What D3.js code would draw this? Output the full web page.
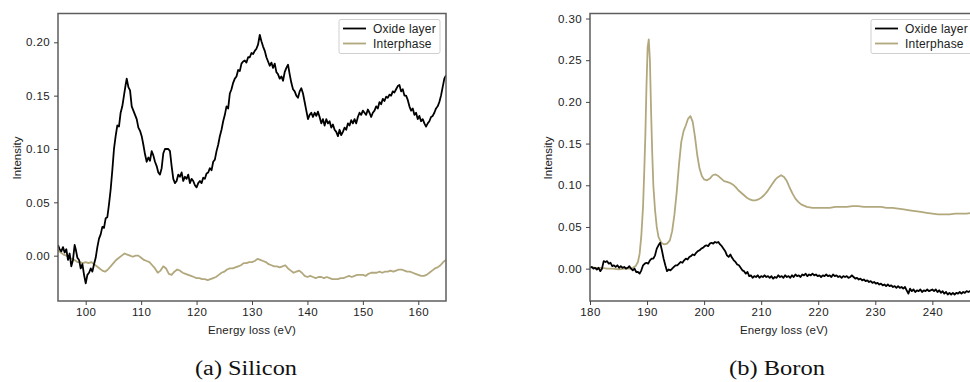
<!DOCTYPE html>
<html><head><meta charset="utf-8">
<script src="https://cdn.jsdelivr.net/npm/d3@7"></script>
<style>body{margin:0;background:#fff}svg{display:block}</style>
</head><body>
<svg id="c" width="970" height="382"></svg>
<script>
// ---------- DATA ----------
const seriesNames = ["Oxide layer", "Interphase"];
const siXTicks = [100,110,120,130,140,150,160];
const siYTicks = [0.00,0.05,0.10,0.15,0.20];
const bXTicks = [180,190,200,210,220,230,240];
const bYTicks = [0.00,0.05,0.10,0.15,0.20,0.25,0.30];
const captions = ["(a) Silicon","(b) Boron"];

const siOxideE = [95.0,95.3,95.6,95.9,96.2,96.5,96.8,97.1,97.4,97.7,98.0,98.2,98.5,98.8,99.1,99.4,99.7,100.0,100.3,100.6,100.9,101.2,101.5,101.8,102.1,102.4,102.7,103.0,103.3,103.6,103.9,104.2,104.5,104.8,105.1,105.4,105.7,106.0,106.3,106.6,106.9,107.2,107.4,107.7,108.0,108.3,108.6,108.9,109.2,109.5,109.8,110.1,110.4,110.7,111.0,111.3,111.6,111.9,112.2,112.5,112.8,113.1,113.4,113.7,114.0,114.3,114.6,114.9,115.2,115.5,115.8,116.1,116.4,116.7,117.0,117.3,117.6,117.9,118.2,118.5,118.8,119.1,119.4,119.7,120.0,120.3,120.6,120.9,121.2,121.5,121.8,122.1,122.4,122.7,123.0,123.3,123.6,123.9,124.2,124.5,124.8,125.1,125.4,125.7,126.0,126.3,126.6,126.9,127.2,127.5,127.8,128.1,128.4,128.7,129.0,129.3,129.6,129.9,130.2,130.5,130.8,131.1,131.4,131.7,132.0,132.3,132.6,132.9,133.2,133.5,133.8,134.1,134.4,134.7,135.0,135.3,135.6,135.9,136.2,136.5,136.8,137.1,137.4,137.7,138.0,138.3,138.6,138.9,139.2,139.5,139.8,140.1,140.4,140.7,141.0,141.3,141.6,141.9,142.2,142.5,142.8,143.1,143.4,143.7,144.0,144.3,144.6,144.9,145.2,145.5,145.8,146.1,146.4,146.7,147.0,147.3,147.6,147.9,148.2,148.5,148.8,149.1,149.4,149.7,150.0,150.3,150.6,150.9,151.2,151.5,151.8,152.1,152.4,152.7,153.0,153.3,153.6,153.9,154.2,154.5,154.8,155.1,155.4,155.7,156.0,156.3,156.6,156.9,157.2,157.5,157.8,158.1,158.4,158.7,159.0,159.3,159.6,159.9,160.2,160.5,160.8,161.1,161.4,161.7,162.0,162.3,162.6,162.9,163.2,163.5,163.8,164.1,164.4,164.7,165.0];
const siOxideI = [0.010,0.006,0.004,0.008,0.003,0.006,-0.004,0.002,-0.010,-0.004,0.010,0.006,-0.002,-0.004,-0.012,-0.008,-0.018,-0.026,-0.018,-0.016,-0.012,-0.015,-0.008,-0.002,0.008,0.016,0.020,0.027,0.026,0.035,0.036,0.048,0.062,0.080,0.100,0.112,0.122,0.121,0.134,0.140,0.150,0.160,0.166,0.158,0.155,0.140,0.136,0.132,0.128,0.120,0.117,0.112,0.104,0.095,0.088,0.092,0.089,0.098,0.094,0.088,0.084,0.078,0.076,0.082,0.096,0.100,0.100,0.100,0.098,0.084,0.072,0.068,0.070,0.076,0.074,0.078,0.070,0.074,0.072,0.076,0.068,0.072,0.070,0.066,0.064,0.068,0.070,0.068,0.073,0.072,0.077,0.078,0.082,0.080,0.088,0.090,0.098,0.104,0.112,0.118,0.126,0.132,0.140,0.138,0.152,0.156,0.162,0.166,0.168,0.174,0.173,0.180,0.182,0.183,0.181,0.186,0.186,0.190,0.189,0.192,0.194,0.198,0.207,0.201,0.196,0.192,0.186,0.182,0.178,0.181,0.176,0.180,0.172,0.170,0.166,0.168,0.164,0.172,0.176,0.179,0.170,0.162,0.156,0.154,0.150,0.148,0.154,0.157,0.152,0.144,0.136,0.128,0.132,0.134,0.130,0.134,0.131,0.135,0.130,0.124,0.128,0.122,0.128,0.124,0.126,0.120,0.123,0.118,0.116,0.112,0.118,0.113,0.116,0.120,0.118,0.124,0.122,0.127,0.124,0.128,0.124,0.130,0.134,0.132,0.136,0.134,0.132,0.137,0.134,0.130,0.134,0.136,0.140,0.138,0.144,0.142,0.147,0.145,0.149,0.148,0.151,0.150,0.154,0.153,0.156,0.159,0.160,0.154,0.156,0.150,0.150,0.146,0.140,0.136,0.138,0.132,0.134,0.128,0.131,0.126,0.128,0.124,0.121,0.124,0.126,0.130,0.131,0.134,0.138,0.140,0.144,0.150,0.158,0.166,0.169];

const siInterE = [95.0,95.5,96.0,96.5,97.0,97.5,98.0,98.5,99.0,99.5,100.0,100.5,101.0,101.5,102.0,102.5,103.0,103.5,104.0,104.5,105.0,105.5,106.0,106.5,107.0,107.5,108.0,108.5,109.0,109.5,110.0,110.5,111.0,111.5,112.0,112.5,113.0,113.5,114.0,114.5,115.0,115.5,116.0,116.5,117.0,117.5,118.0,118.5,119.0,119.5,120.0,120.5,121.0,121.5,122.0,122.5,123.0,123.5,124.0,124.5,125.0,125.5,126.0,126.5,127.0,127.5,128.0,128.5,129.0,129.5,130.0,130.5,131.0,131.5,132.0,132.5,133.0,133.5,134.0,134.5,135.0,135.5,136.0,136.5,137.0,137.5,138.0,138.5,139.0,139.5,140.0,140.5,141.0,141.5,142.0,142.5,143.0,143.5,144.0,144.5,145.0,145.5,146.0,146.5,147.0,147.5,148.0,148.5,149.0,149.5,150.0,150.5,151.0,151.5,152.0,152.5,153.0,153.5,154.0,154.5,155.0,155.5,156.0,156.5,157.0,157.5,158.0,158.5,159.0,159.5,160.0,160.5,161.0,161.5,162.0,162.5,163.0,163.5,164.0,164.5,165.0];
const siInterI = [0.005,0.003,0.001,0.000,-0.002,-0.003,-0.004,-0.006,-0.006,-0.007,-0.006,-0.007,-0.006,-0.008,-0.010,-0.012,-0.014,-0.015,-0.013,-0.010,-0.007,-0.004,-0.002,0.000,0.002,0.001,0.000,-0.001,0.000,0.000,-0.002,-0.004,-0.005,-0.006,-0.009,-0.012,-0.016,-0.014,-0.010,-0.012,-0.017,-0.018,-0.015,-0.013,-0.014,-0.016,-0.017,-0.018,-0.019,-0.020,-0.021,-0.021,-0.022,-0.022,-0.023,-0.022,-0.021,-0.020,-0.018,-0.016,-0.015,-0.013,-0.012,-0.012,-0.011,-0.010,-0.009,-0.007,-0.007,-0.006,-0.006,-0.005,-0.003,-0.004,-0.005,-0.006,-0.008,-0.009,-0.010,-0.010,-0.011,-0.010,-0.009,-0.012,-0.014,-0.016,-0.015,-0.014,-0.016,-0.019,-0.020,-0.019,-0.020,-0.021,-0.020,-0.020,-0.021,-0.020,-0.021,-0.022,-0.022,-0.022,-0.021,-0.021,-0.020,-0.019,-0.020,-0.019,-0.018,-0.018,-0.018,-0.019,-0.017,-0.016,-0.016,-0.016,-0.015,-0.016,-0.015,-0.015,-0.014,-0.015,-0.014,-0.013,-0.013,-0.014,-0.015,-0.015,-0.016,-0.017,-0.018,-0.019,-0.019,-0.018,-0.016,-0.014,-0.012,-0.011,-0.009,-0.006,-0.004];

const bOxideE = [180.0,180.3,180.6,180.9,181.2,181.5,181.8,182.1,182.4,182.7,183.0,183.3,183.6,183.9,184.2,184.5,184.8,185.1,185.4,185.7,186.0,186.3,186.6,186.9,187.2,187.5,187.8,188.1,188.4,188.7,189.0,189.3,189.6,189.9,190.2,190.5,190.8,191.1,191.4,191.7,192.0,192.3,192.6,192.9,193.2,193.5,193.8,194.1,194.4,194.7,195.0,195.3,195.6,195.9,196.2,196.5,196.8,197.1,197.4,197.7,198.0,198.3,198.6,198.9,199.2,199.5,199.8,200.1,200.4,200.7,201.0,201.3,201.6,201.9,202.2,202.5,202.8,203.1,203.4,203.7,204.0,204.3,204.6,204.9,205.2,205.5,205.8,206.1,206.4,206.7,207.0,207.3,207.6,207.9,208.2,208.5,208.8,209.1,209.4,209.7,210.0,210.3,210.6,210.9,211.2,211.5,211.8,212.1,212.4,212.7,213.0,213.3,213.6,213.9,214.2,214.5,214.8,215.1,215.4,215.7,216.0,216.3,216.6,216.9,217.2,217.5,217.8,218.1,218.4,218.7,219.0,219.3,219.6,219.9,220.2,220.5,220.8,221.1,221.4,221.7,222.0,222.3,222.6,222.9,223.2,223.5,223.8,224.1,224.4,224.7,225.0,225.3,225.6,225.9,226.2,226.5,226.8,227.1,227.4,227.7,228.0,228.3,228.6,228.9,229.2,229.5,229.8,230.1,230.4,230.7,231.0,231.3,231.6,231.9,232.2,232.5,232.8,233.1,233.4,233.7,234.0,234.3,234.6,234.9,235.2,235.5,235.8,236.1,236.4,236.7,237.0,237.3,237.6,237.9,238.2,238.5,238.8,239.1,239.4,239.7,240.0,240.3,240.6,240.9,241.2,241.5,241.8,242.1,242.4,242.7,243.0,243.3,243.6,243.9,244.2,244.5,244.8,245.1,245.4,245.7,246.0,246.3,246.6,246.9,247.2,247.5];
const bOxideI = [0.001,0.002,0.000,0.001,-0.001,0.001,-0.003,0.000,0.009,0.008,0.009,0.006,0.007,0.003,0.004,0.002,0.004,0.001,0.003,0.001,0.002,0.000,0.001,0.003,0.000,-0.002,0.000,-0.004,-0.004,-0.006,-0.002,0.004,0.006,0.007,0.006,0.010,0.012,0.012,0.016,0.024,0.028,0.031,0.022,0.012,0.004,-0.003,-0.001,-0.002,0.000,0.002,0.004,0.004,0.006,0.008,0.007,0.010,0.012,0.011,0.014,0.015,0.017,0.016,0.019,0.021,0.022,0.024,0.025,0.027,0.028,0.027,0.030,0.031,0.030,0.032,0.031,0.032,0.029,0.027,0.024,0.021,0.016,0.014,0.017,0.013,0.010,0.008,0.005,0.004,0.001,-0.002,-0.003,-0.006,-0.004,-0.009,-0.008,-0.011,-0.009,-0.010,-0.008,-0.011,-0.009,-0.010,-0.008,-0.010,-0.009,-0.011,-0.009,-0.012,-0.010,-0.011,-0.008,-0.010,-0.009,-0.011,-0.008,-0.010,-0.009,-0.011,-0.008,-0.010,-0.007,-0.009,-0.008,-0.010,-0.007,-0.008,-0.006,-0.009,-0.007,-0.008,-0.006,-0.008,-0.007,-0.009,-0.008,-0.010,-0.008,-0.009,-0.007,-0.009,-0.008,-0.010,-0.007,-0.009,-0.008,-0.010,-0.009,-0.011,-0.009,-0.010,-0.009,-0.011,-0.010,-0.008,-0.010,-0.012,-0.011,-0.013,-0.012,-0.014,-0.013,-0.015,-0.014,-0.016,-0.015,-0.017,-0.016,-0.018,-0.017,-0.019,-0.018,-0.020,-0.019,-0.021,-0.019,-0.021,-0.020,-0.022,-0.021,-0.023,-0.021,-0.023,-0.022,-0.024,-0.022,-0.026,-0.030,-0.024,-0.027,-0.025,-0.028,-0.026,-0.027,-0.025,-0.028,-0.026,-0.027,-0.025,-0.027,-0.026,-0.025,-0.027,-0.025,-0.028,-0.026,-0.029,-0.027,-0.030,-0.028,-0.031,-0.029,-0.031,-0.029,-0.031,-0.029,-0.030,-0.028,-0.030,-0.028,-0.029,-0.027,-0.028,-0.027,-0.028,-0.027,-0.028];

const bInterE = [180.0,181.0,182.0,183.0,184.0,185.0,186.0,187.0,187.5,188.0,188.4,188.7,189.0,189.3,189.5,189.7,189.9,190.1,190.3,190.5,190.7,190.9,191.1,191.4,191.7,192.0,192.5,193.0,193.5,194.0,194.4,194.8,195.2,195.6,196.0,196.4,196.8,197.2,197.6,198.0,198.4,198.8,199.2,199.6,200.0,200.5,201.0,201.5,202.0,202.5,203.0,203.5,204.0,204.5,205.0,205.5,206.0,206.5,207.0,207.5,208.0,208.5,209.0,209.5,210.0,210.5,211.0,211.5,212.0,212.5,213.0,213.5,214.0,214.5,215.0,215.5,216.0,216.5,217.0,218.0,219.0,220.0,221.0,222.0,223.0,224.0,225.0,226.0,227.0,228.0,229.0,230.0,231.0,232.0,233.0,234.0,235.0,236.0,237.0,238.0,239.0,240.0,241.0,242.0,243.0,244.0,245.0,246.0,247.0,248.0];
const bInterI = [0.002,0.001,0.001,0.000,0.000,-0.001,0.000,0.000,0.001,0.003,0.008,0.018,0.040,0.075,0.115,0.160,0.220,0.265,0.275,0.250,0.190,0.140,0.100,0.070,0.050,0.038,0.031,0.029,0.030,0.034,0.045,0.065,0.092,0.125,0.152,0.165,0.172,0.180,0.183,0.176,0.158,0.136,0.120,0.111,0.107,0.106,0.108,0.112,0.113,0.111,0.108,0.105,0.104,0.103,0.101,0.098,0.094,0.091,0.088,0.085,0.083,0.082,0.082,0.083,0.085,0.088,0.092,0.097,0.102,0.107,0.110,0.112,0.110,0.105,0.097,0.090,0.084,0.080,0.077,0.074,0.073,0.073,0.073,0.073,0.074,0.074,0.074,0.075,0.075,0.074,0.074,0.074,0.074,0.073,0.073,0.072,0.071,0.070,0.069,0.068,0.067,0.066,0.065,0.065,0.065,0.066,0.066,0.066,0.067,0.067];

// ---------- DRAW ----------
const colOxide = "#000000", colInter = "#b2a87e";
const FONT = "Liberation Sans, Arial, sans-serif";
const svg = d3.select("#c");

function panel(o) {
  const x = d3.scaleLinear().domain(o.xDomain).range([o.left, o.right]);
  const y = d3.scaleLinear().domain(o.yDomain).range([o.bottom, o.top]);
  const g = svg.append("g");
  const cid = "clip" + o.id;
  svg.append("clipPath").attr("id", cid).append("rect")
    .attr("x", o.left).attr("y", o.top).attr("width", o.right - o.left).attr("height", o.bottom - o.top);

  const line = d3.line().x(d => x(d[0])).y(d => y(d[1]));
  const mk = (E, I) => E.map((e, i) => [e, I[i]]);
  const pg = g.append("g").attr("clip-path", `url(#${cid})`);
  pg.append("path").datum(mk(o.interE, o.interI)).attr("d", line)
    .attr("fill", "none").attr("stroke", colInter).attr("stroke-width", 1.8).attr("stroke-linejoin", "round");
  pg.append("path").datum(mk(o.oxE, o.oxI)).attr("d", line)
    .attr("fill", "none").attr("stroke", colOxide).attr("stroke-width", 1.8).attr("stroke-linejoin", "round");

  // spines
  g.append("rect").attr("x", o.left).attr("y", o.top).attr("width", o.right - o.left).attr("height", o.bottom - o.top)
    .attr("fill", "none").attr("stroke", "#5e5e5e").attr("stroke-width", 1.5);

  const xa = g.append("g").attr("transform", `translate(0,${o.bottom})`)
    .call(d3.axisBottom(x).tickValues(o.xTicks).tickSize(4).tickPadding(3).tickFormat(d3.format("d")));
  const ya = g.append("g").attr("transform", `translate(${o.left},0)`)
    .call(d3.axisLeft(y).tickValues(o.yTicks).tickSize(4).tickPadding(4).tickFormat(d3.format(".2f")));
  [xa, ya].forEach(a => {
    a.select(".domain").remove();
    a.selectAll("line").attr("stroke", "#444").attr("stroke-width", 1);
    a.selectAll("text").attr("fill", "#222").attr("font-family", FONT).attr("font-size", 11.5)
      .attr("letter-spacing", 0.4);
  });

  g.append("text").attr("x", (o.left + o.right) / 2).attr("y", 334).attr("text-anchor", "middle")
    .attr("font-family", FONT).attr("font-size", 11.5).attr("fill", "#222").attr("letter-spacing", 0.2)
    .text("Energy loss (eV)");
  g.append("text").attr("transform", `translate(${o.ylabX},158) rotate(-90)`).attr("text-anchor", "middle")
    .attr("dominant-baseline", "central")
    .attr("font-family", FONT).attr("font-size", 11.5).attr("fill", "#222")
    .text("Intensity");

  // legend
  const lx = o.right - 107, ly = o.top + 6;
  const lg = g.append("g");
  lg.append("rect").attr("x", lx).attr("y", ly).attr("width", 101).attr("height", 34).attr("rx", 2)
    .attr("fill", "#fff").attr("fill-opacity", 0.85).attr("stroke", "#cfcfcf").attr("stroke-width", 1);
  [[colOxide, seriesNames[0]], [colInter, seriesNames[1]]].forEach((s, i) => {
    const yy = ly + 9 + i * 15;
    lg.append("line").attr("x1", lx + 4).attr("x2", lx + 27).attr("y1", yy).attr("y2", yy)
      .attr("stroke", s[0]).attr("stroke-width", 1.8);
    lg.append("text").attr("x", lx + 34).attr("y", yy + 4).attr("font-family", FONT)
      .attr("font-size", 12).attr("fill", "#222").attr("letter-spacing", 0.2).text(s[1]);
  });

  g.append("text").attr("x", o.capX).attr("y", 375).attr("text-anchor", "middle")
    .attr("font-family", "Liberation Serif, Times New Roman, serif").attr("font-size", 20)
    .attr("textLength", o.capW).attr("lengthAdjust", "spacingAndGlyphs").attr("fill", "#111")
    .text(o.caption);
}

panel({id: "a", left: 58, right: 446, top: 13.5, bottom: 301,
  xDomain: [95, 165], yDomain: [-0.0425, 0.227],
  xTicks: siXTicks, yTicks: siYTicks,
  oxE: siOxideE, oxI: siOxideI, interE: siInterE, interI: siInterI,
  ylabX: 17, capX: 246, capW: 102, caption: captions[0]});

panel({id: "b", left: 590, right: 978, top: 13.5, bottom: 301,
  xDomain: [180, 248], yDomain: [-0.0388, 0.306],
  xTicks: bXTicks, yTicks: bYTicks,
  oxE: bOxideE, oxI: bOxideI, interE: bInterE, interI: bInterI,
  ylabX: 548, capX: 777, capW: 96, caption: captions[1]});
</script>
</body></html>
